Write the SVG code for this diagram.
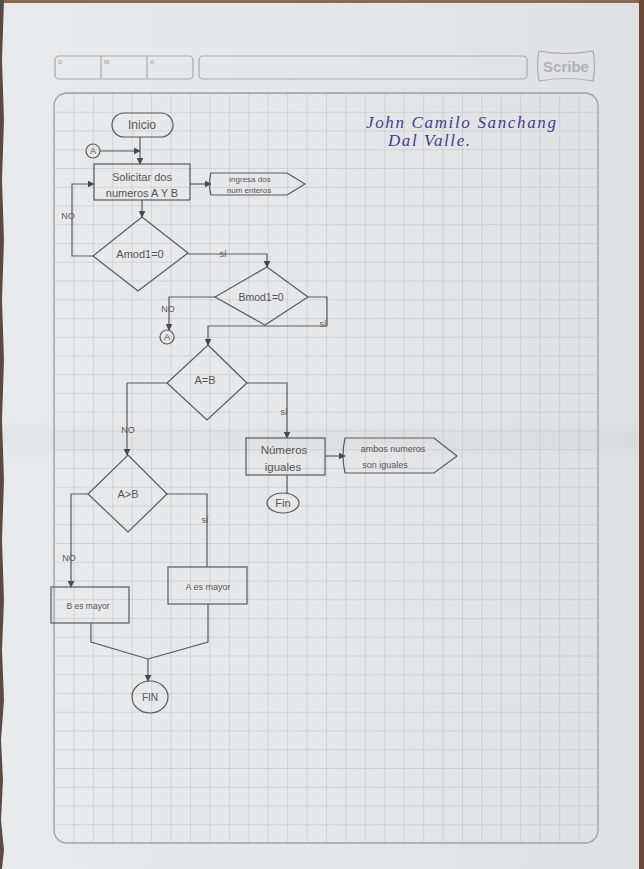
<svg xmlns="http://www.w3.org/2000/svg" width="644" height="869" viewBox="0 0 644 869">
<defs>
<linearGradient id="paper" x1="0" y1="0" x2="1" y2="0">
<stop offset="0" stop-color="#e9eaec"/>
<stop offset="0.5" stop-color="#e6e7e9"/>
<stop offset="1" stop-color="#dfe0e3"/>
</linearGradient>
<linearGradient id="fold" x1="0" y1="0" x2="0" y2="1">
<stop offset="0" stop-color="#000" stop-opacity="0"/>
<stop offset="0.5" stop-color="#000" stop-opacity="0.03"/>
<stop offset="1" stop-color="#000" stop-opacity="0"/>
</linearGradient>
<pattern id="grid" patternUnits="userSpaceOnUse" x="54" y="93" width="19.43" height="18.75">
<path d="M0,0 V18.75 M0,0 H19.43" fill="none" stroke="#bcbec2" stroke-width="1"/>
</pattern>
<clipPath id="gclip"><rect x="54" y="93" width="544" height="750" rx="13"/></clipPath>
<marker id="arr" viewBox="0 0 10 10" refX="9" refY="5" markerWidth="7" markerHeight="7" markerUnits="userSpaceOnUse" orient="auto">
<path d="M0,0 L10,5 L0,10 z" fill="#4a4a4a"/>
</marker>
<style>
.ink{fill:none;stroke:#5c5c5c;stroke-width:1.2}
.node{fill:none;stroke:#5a5a5a;stroke-width:1.2}
.t{font-family:"Liberation Sans",Arial,sans-serif;fill:#555;text-anchor:middle}
.lbl{font-family:"Liberation Sans",Arial,sans-serif;fill:#585858;font-size:9px;text-anchor:middle}
.hdr{fill:none;stroke:#a9abaf;stroke-width:1.2}
.au{font-family:"Liberation Serif",serif;font-style:italic;font-size:17px;fill:#3c3f8c}
</style>
</defs>
<rect width="644" height="869" fill="url(#paper)"/>
<rect x="0" y="420" width="644" height="40" fill="url(#fold)"/>
<rect x="0" y="0" width="644" height="3" fill="#8a6a55"/>
<rect x="639" y="0" width="5" height="869" fill="#6b4a3a"/>
<path d="M0,0 V869 H2 L4,850 L1,820 L3,780 L1,740 L4,700 L2,650 L4,600 L2,540 L4,480 L2,420 L4,360 L2,300 L4,240 L2,180 L4,120 L2,60 L4,0 z" fill="#5a4a45"/>
<g id="header">
<rect class="hdr" x="55" y="56" width="138" height="23" rx="4"/>
<line class="hdr" x1="101" y1="56" x2="101" y2="79"/>
<line class="hdr" x1="147" y1="56" x2="147" y2="79"/>
<text x="58" y="64" font-family="Liberation Sans,sans-serif" font-size="6" fill="#999">D</text>
<text x="104" y="64" font-family="Liberation Sans,sans-serif" font-size="6" fill="#999">M</text>
<text x="150" y="64" font-family="Liberation Sans,sans-serif" font-size="6" fill="#999">A</text>
<rect class="hdr" x="199" y="56" width="328" height="23" rx="4"/>
<path class="hdr" d="M539,51 Q566,56 593,51 Q596,66 593,81 Q566,76 539,81 Q536,66 539,51 z"/>
<text x="566" y="72" font-family="Liberation Sans,sans-serif" font-size="15" font-weight="bold" fill="#b0b2b6" text-anchor="middle">Scribe</text>
</g>
<g id="gridpaper">
<rect x="54" y="93" width="544" height="750" fill="url(#grid)" clip-path="url(#gclip)"/>
<rect x="54" y="93" width="544" height="750" rx="13" fill="none" stroke="#9ea0a4" stroke-width="1.3"/>
</g>
<g id="author">
<text class="au" x="366" y="128" textLength="190" lengthAdjust="spacing">John Camilo Sanchang</text>
<text class="au" x="388" y="146" textLength="82" lengthAdjust="spacing">Dal Valle.</text>
</g>
<g id="connectors">
<path class="ink" d="M140,137 V164" marker-end="url(#arr)"/>
<path class="ink" d="M100,151 H140" marker-end="url(#arr)"/>
<path class="ink" d="M190,184 H211" marker-end="url(#arr)"/>
<path class="ink" d="M142,200 V217" marker-end="url(#arr)"/>
<path class="ink" d="M93,256 H72 V184 H94" marker-end="url(#arr)"/>
<path class="ink" d="M188,254 H267 V267" marker-end="url(#arr)"/>
<path class="ink" d="M215,297 H169 V330" marker-end="url(#arr)"/>
<path class="ink" d="M308,297 H327 V326 H208 V345" marker-end="url(#arr)"/>
<path class="ink" d="M247,383 H287 V438" marker-end="url(#arr)"/>
<path class="ink" d="M167,383 H127 V455" marker-end="url(#arr)"/>
<path class="ink" d="M325,456 H345" marker-end="url(#arr)"/>
<path class="ink" d="M287,475 V493"/>
<path class="ink" d="M167,494 H207 V567"/>
<path class="ink" d="M88,494 H71 V587" marker-end="url(#arr)"/>
<path class="ink" d="M91,623 V642 L148,659"/>
<path class="ink" d="M208,604 V642 L148,659"/>
<path class="ink" d="M148,659 V681" marker-end="url(#arr)"/>
<text class="lbl" x="68" y="219">NO</text>
<text class="lbl" x="223" y="257">sí</text>
<text class="lbl" x="168" y="312">NO</text>
<text class="lbl" x="323" y="327">sí</text>
<text class="lbl" x="128" y="433">NO</text>
<text class="lbl" x="284" y="415">sí</text>
<text class="lbl" x="205" y="523">sí</text>
<text class="lbl" x="69" y="561">NO</text>
</g>
<g id="inicio">
<rect class="node" x="112" y="113" width="61" height="24" rx="12"/>
<text class="t" x="142" y="129" font-size="12">Inicio</text>
</g>
<g id="connA1">
<circle class="node" cx="93" cy="151" r="7"/>
<text class="t" x="93" y="154" font-size="9">A</text>
</g>
<g id="solicitar">
<rect class="node" x="94" y="164" width="96" height="36"/>
<text class="t" x="142" y="181" font-size="11">Solicitar dos</text>
<text class="t" x="142" y="197" font-size="11">numeros A Y B</text>
</g>
<g id="ingresa">
<path class="node" d="M211,173 H287 L305,184 L287,195 H211 Q208,184 211,173 z"/>
<text class="t" x="250" y="182" font-size="8">ingresa dos</text>
<text class="t" x="249" y="193" font-size="8">num enteros</text>
</g>
<g id="amod">
<path class="node" d="M142,217 L188,253 L138,291 L93,256 z"/>
<text class="t" x="140" y="258" font-size="11">Amod1=0</text>
</g>
<g id="bmod">
<path class="node" d="M267,267 L308,297 L265,325 L215,297 z"/>
<text class="t" x="261" y="301" font-size="10.5">Bmod1=0</text>
</g>
<g id="connA2">
<circle class="node" cx="167" cy="337" r="7"/>
<text class="t" x="167" y="340" font-size="9">A</text>
</g>
<g id="aigualb">
<path class="node" d="M208,345 L247,383 L207,420 L167,383 z"/>
<text class="t" x="205" y="384" font-size="11">A=B</text>
</g>
<g id="iguales">
<rect class="node" x="246" y="438" width="79" height="37"/>
<text class="t" x="284" y="454" font-size="11.5">Números</text>
<text class="t" x="283" y="471" font-size="11.5">iguales</text>
</g>
<g id="ambos">
<path class="node" d="M345,438 H434 L457,456 L434,473 H345 Q341,456 345,438 z"/>
<text class="t" x="393" y="452" font-size="9">ambos numeros</text>
<text class="t" x="385" y="468" font-size="9">son iguales</text>
</g>
<g id="fin1">
<ellipse class="node" cx="283" cy="503" rx="16" ry="10"/>
<text class="t" x="283" y="507" font-size="11">Fin</text>
</g>
<g id="amayorb">
<path class="node" d="M128,455 L167,494 L128,532 L88,494 z"/>
<text class="t" x="128" y="498" font-size="11">A&gt;B</text>
</g>
<g id="aesmayor">
<rect class="node" x="168" y="567" width="79" height="37"/>
<text class="t" x="208" y="590" font-size="9">A es mayor</text>
</g>
<g id="besmayor">
<rect class="node" x="51" y="587" width="78" height="36"/>
<text class="t" x="88" y="609" font-size="8.5">B es mayor</text>
</g>
<g id="fin2">
<ellipse class="node" cx="150" cy="697" rx="18" ry="16"/>
<text class="t" x="150" y="701" font-size="10">FIN</text>
</g>
</svg>
